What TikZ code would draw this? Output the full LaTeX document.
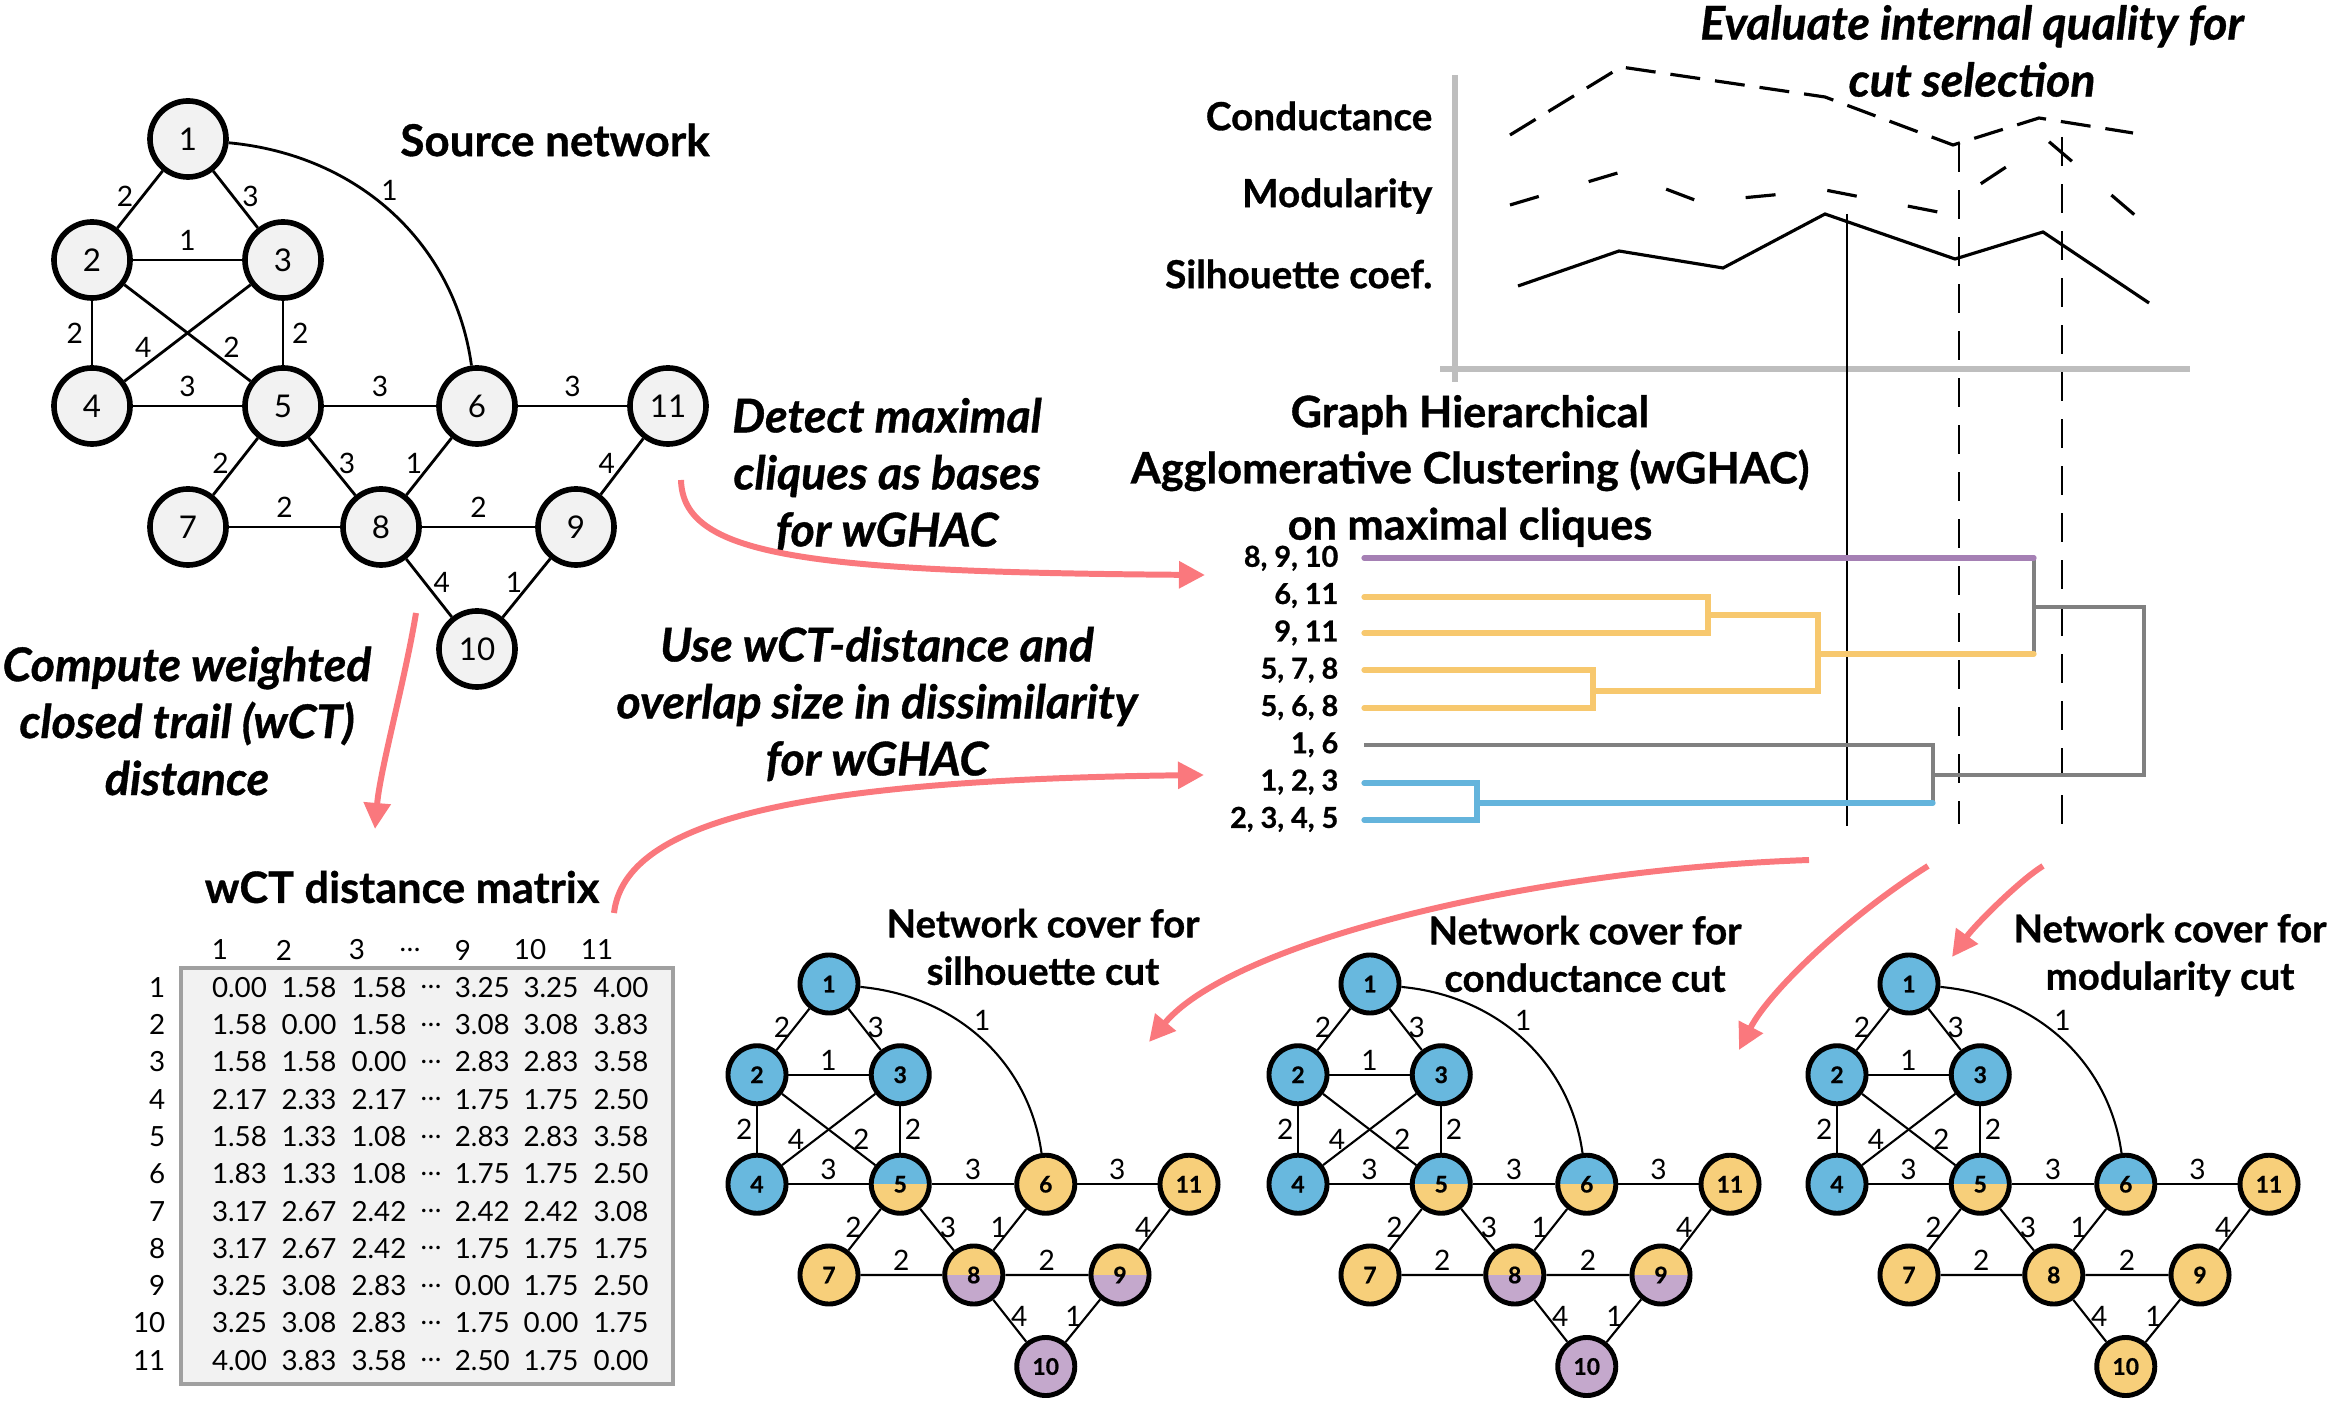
\documentclass[tikz,border=0pt]{standalone}
\usepackage{fontspec}
\setmainfont{Lato}[BoldFeatures={FakeBold=0.8}, BoldItalicFeatures={FakeBold=0.8}]
\usetikzlibrary{arrows.meta}
\definecolor{cblue}{RGB}{104,184,222}
\definecolor{cyel}{RGB}{247,207,122}
\definecolor{cpur}{RGB}{196,168,204}
\definecolor{dpur}{RGB}{165,128,180}
\definecolor{dyel}{RGB}{247,200,110}
\definecolor{dblue}{RGB}{100,180,220}
\definecolor{dgray}{RGB}{128,128,128}
\definecolor{vgray}{RGB}{242,242,242}
\definecolor{axgray}{RGB}{190,190,190}
\definecolor{boxgray}{RGB}{160,160,160}
\definecolor{arrpink}{RGB}{250,120,125}

% vertex positions of the example network, relative to vertex 1
\newcommand{\netpos}{%
  \foreach \n/\x/\y in {1/0/0, 2/-96/121, 3/95/121, 4/-96/267, 5/95/267, 6/289/267,
                        11/480/267, 7/0/388, 8/193/388, 9/388/388, 10/289/510}
    \coordinate (p\n) at (\x,\y);}

% weighted edges, #1 = prefix of the vertex names
\newcommand{\netedges}[1]{%
  \draw[link] (#1-1) -- node[wt, left, pos=.45] {2} (#1-2);
  \draw[link] (#1-1) -- node[wt, right, pos=.45] {3} (#1-3);
  \draw[link] (#1-1) .. controls +(172,16) and +(-22,-161) .. node[wt, pos=.45, anchor=south west, inner sep=0pt] {1} (#1-6);
  \draw[link] (#1-2) -- node[wt, above] {1} (#1-3);
  \draw[link] (#1-2) -- node[wt, left] {2} (#1-4);
  \draw[link] (#1-3) -- node[wt, above, pos=.85] {4} (#1-4);
  \draw[link] (#1-2) -- node[wt, above, pos=.85] {2} (#1-5);
  \draw[link] (#1-3) -- node[wt, right] {2} (#1-5);
  \draw[link] (#1-4) -- node[wt, above] {3} (#1-5);
  \draw[link] (#1-5) -- node[wt, above] {3} (#1-6);
  \draw[link] (#1-6) -- node[wt, above] {3} (#1-11);
  \draw[link] (#1-5) -- node[wt, left, pos=.45] {2} (#1-7);
  \draw[link] (#1-5) -- node[wt, right, pos=.45] {3} (#1-8);
  \draw[link] (#1-6) -- node[wt, left, pos=.45] {1} (#1-8);
  \draw[link] (#1-11) -- node[wt, left, pos=.45] {4} (#1-9);
  \draw[link] (#1-7) -- node[wt, above] {2} (#1-8);
  \draw[link] (#1-8) -- node[wt, above] {2} (#1-9);
  \draw[link] (#1-8) -- node[wt, right, pos=.4] {4} (#1-10);
  \draw[link] (#1-9) -- node[wt, left, pos=.4] {1} (#1-10);
}

\begin{document}
\begin{tikzpicture}[x=0.01cm, y=-0.01cm,
  svtx/.style   = {circle, draw, line width=1.6pt, fill=vgray, minimum size=0.76cm,
                   inner sep=0pt, font=\fontsize{8.9}{10}\selectfont},
  bvtx/.style   = {circle, draw, line width=1.4pt, minimum size=0.58cm,
                   inner sep=0pt, font=\fontsize{6.5}{7}\selectfont\bfseries},
  bl/.style     = {fill=cblue},
  ye/.style     = {fill=cyel},
  pu/.style     = {fill=cpur},
  halves/.style 2 args = {fill=#1, path picture={\fill[#2] (path picture bounding box.west)
                   rectangle (path picture bounding box.south east);}},
  blye/.style   = {halves={cblue}{cyel}},
  yepu/.style   = {halves={cyel}{cpur}},
  link/.style   = {line width=0.8pt},
  wt/.style     = {font=\fontsize{8}{9}\selectfont, inner sep=2.2pt},
  ttl/.style    = {font=\fontsize{12.3}{16}\selectfont\bfseries, align=center},
  note/.style   = {font=\fontsize{13.2}{16.2}\selectfont\bfseries\itshape, align=center},
  clbl/.style   = {font=\fontsize{11}{13}\selectfont\bfseries, anchor=east, inner sep=0pt},
  leaf/.style   = {font=\fontsize{8.2}{9}\selectfont\bfseries, anchor=east, inner sep=0pt},
  mval/.style   = {font=\fontsize{7.9}{9}\selectfont, inner sep=0pt},
  mbox/.style   = {draw=boxgray, fill=vgray, line width=1.2pt,
                   minimum width=4.92cm, minimum height=4.15cm},
  axisl/.style  = {axgray, line width=1.5pt},
  crv/.style    = {line width=0.9pt},
  cond/.style   = {dash pattern=on 0.3cm off 0.15cm},
  modu/.style   = {dash pattern=on 0.3cm off 0.52cm},
  cutl/.style   = {line width=0.7pt},
  cutd/.style   = {line width=0.7pt, dash pattern=on 0.29cm off 0.18cm},
  dlin/.style   = {line width=1.5pt, line cap=round},
  glin/.style   = {dgray, line width=1pt},
  parr/.style   = {arrpink, line width=1.7pt, -{Triangle[length=0.26cm, width=0.26cm]}}
]
\useasboundingbox (0,0) rectangle (2333,1404);

% source network
\begin{scope}[shift={(188,139)}]
  \netpos
  \foreach \n in {1,...,11}
    \node[svtx] (s-\n) at (p\n) {\n};
  \netedges{s}
\end{scope}
\node[ttl, font=\fontsize{12.5}{16}\selectfont\bfseries] (srcttl) at (555,140) {Source network};

% wCT distance matrix
\node[ttl] (mttl) at (402,887) {wCT distance matrix};
\node[mbox] (mbox) at (427,1176) {};
\foreach \h/\x [count=\j] in {1/220, 2/284, 3/357, \dots/410, 9/463, 10/530, 11/597}
  \node[mval] (h\j) at (\x,950) {\h};
\foreach \r [count=\i] in {{0.00,1.58,1.58,3.25,3.25,4.00}, {1.58,0.00,1.58,3.08,3.08,3.83},
    {1.58,1.58,0.00,2.83,2.83,3.58}, {2.17,2.33,2.17,1.75,1.75,2.50},
    {1.58,1.33,1.08,2.83,2.83,3.58}, {1.83,1.33,1.08,1.75,1.75,2.50},
    {3.17,2.67,2.42,2.42,2.42,3.08}, {3.17,2.67,2.42,1.75,1.75,1.75},
    {3.25,3.08,2.83,0.00,1.75,2.50}, {3.25,3.08,2.83,1.75,0.00,1.75},
    {4.00,3.83,3.58,2.50,1.75,0.00}} {
  \node[mval, anchor=east] (r\i) at (166,950+37.3*\i) {\i};
  \node[mval] (d\i) at (431,950+37.3*\i) {\dots};
  \foreach \v [count=\j] in \r {
    \pgfmathsetmacro\cx{{239.5,309,379,482.3,551,621}[\j-1]}
    \node[mval] (m\i-\j) at (\cx,950+37.3*\i) {\v};
  }
}

% annotations
\node[note] (ncomp) at (187,721) {Compute weighted\\closed trail (wCT)\\distance};
\node[note] (ndet) at (887,475) {Detect maximal\\cliques as bases\\for wGHAC};
\node[note] (nuse) at (877,704) {Use wCT-distance and\\overlap size in dissimilarity\\for wGHAC};
\node[note] (neval) at (1972,51) {Evaluate internal quality for\\cut selection};

% internal quality curves
\draw[axisl] (1455,75) -- (1455,382);
\draw[axisl] (1440,369) -- (2190,369);
\node[clbl] (lcond) at (1433,116) {Conductance};
\node[clbl] (lmod) at (1433,196) {Modularity};
\node[clbl] (lsil) at (1433,274) {Silhouette coef.};
\draw[crv, cond] (1510,135) -- (1621,67) -- (1825,97) -- (1953,145) -- (2039,118) -- (2133,133);
\draw[crv, modu] (1510,205) -- (1621,172) -- (1700,202) -- (1825,190) -- (1938,212) -- (2047,140) -- (2137,217);
\draw[crv] (1518,286) -- (1619,251) -- (1723,268) -- (1825,214) -- (1955,259) -- (2043,232) -- (2149,303);
\draw[cutl] (1847,214) -- (1847,826);
\draw[cutd] (1959,143) -- (1959,824);
\draw[cutd] (2062,137) -- (2062,825);

% wGHAC dendrogram
\node[ttl] (dttl) at (1470,471) {Graph Hierarchical\\Agglomerative Clustering (wGHAC)\\on maximal cliques};
\foreach \t [count=\i] in {{8, 9, 10}, {6, 11}, {9, 11}, {5, 7, 8}, {5, 6, 8}, {1, 6}, {1, 2, 3}, {2, 3, 4, 5}}
  \node[leaf] (l\i) at (1339,521+37.3*\i) {\t};
\draw[glin] (2034,558) -- (2034,654);
\draw[glin] (2034,607) -- (2144,607) -- (2144,775) -- (1933,775);
\draw[glin] (1364,745) -- (1933,745) -- (1933,803);
\draw[dlin, dpur] (1364,558) -- (2034,558);
\draw[dlin, dyel] (1364,597) -- (1708,597) -- (1708,633) -- (1364,633);
\draw[dlin, dyel] (1364,670) -- (1593,670) -- (1593,708) -- (1364,708);
\draw[dlin, dyel] (1708,615) -- (1818,615) -- (1818,691) -- (1593,691);
\draw[dlin, dyel] (1818,654) -- (2034,654);
\draw[dlin, dblue] (1364,783) -- (1477,783) -- (1477,820) -- (1364,820);
\draw[dlin, dblue] (1477,803) -- (1933,803);

% network covers for the three cuts
\begin{scope}[shift={(829,984)}, scale=.75, link/.style={line width=0.6pt}, wt/.append style={inner sep=1pt}]
  \netpos
  \foreach \n/\c in {1/bl, 2/bl, 3/bl, 4/bl, 5/blye, 6/ye, 7/ye, 8/yepu, 9/yepu, 10/pu, 11/ye}
    \node[bvtx, \c] (a-\n) at (p\n) {\n};
  \netedges{a}
\end{scope}
\begin{scope}[shift={(1370,984)}, scale=.75, link/.style={line width=0.6pt}, wt/.append style={inner sep=1pt}]
  \netpos
  \foreach \n/\c in {1/bl, 2/bl, 3/bl, 4/bl, 5/blye, 6/blye, 7/ye, 8/yepu, 9/yepu, 10/pu, 11/ye}
    \node[bvtx, \c] (b-\n) at (p\n) {\n};
  \netedges{b}
\end{scope}
\begin{scope}[shift={(1909,984)}, scale=.75, link/.style={line width=0.6pt}, wt/.append style={inner sep=1pt}]
  \netpos
  \foreach \n/\c in {1/bl, 2/bl, 3/bl, 4/bl, 5/blye, 6/blye, 7/ye, 8/ye, 9/ye, 10/ye, 11/ye}
    \node[bvtx, \c] (c-\n) at (p\n) {\n};
  \netedges{c}
\end{scope}
\node[ttl, font=\fontsize{10.9}{13.5}\selectfont\bfseries] (tsil) at (1043,947) {Network cover for\\silhouette cut};
\node[ttl, font=\fontsize{10.9}{13.5}\selectfont\bfseries] (tcon) at (1585,954) {Network cover for\\conductance cut};
\node[ttl, font=\fontsize{10.9}{13.5}\selectfont\bfseries] (tmod) at (2170,955) {Network cover for\\modularity cut};

% pink flow arrows
\coordinate (pa0) at (681,480);   \coordinate (pa1) at (1205,575);
\coordinate (pb0) at (416,613);   \coordinate (pb1) at (375,829);
\coordinate (pc0) at (614,913);   \coordinate (pc1) at (1204,775);
\coordinate (pd0) at (1809,860);  \coordinate (pd1) at (1149,1042);
\coordinate (pe0) at (1928,866);  \coordinate (pe1) at (1739,1050);
\coordinate (pf0) at (2043,866);  \coordinate (pf1) at (1952,957);
\draw[parr] (pa0) .. controls (683,555) and (800,572) .. (pa1);
\draw[parr] (pb0) .. controls (405,680) and (380,770) .. (pb1);
\draw[parr] (pc0) .. controls (625,820) and (800,780) .. (pc1);
\draw[parr] (pd0) .. controls (1520,870) and (1230,945) .. (pd1);
\draw[parr] (pe0) .. controls (1850,915) and (1770,990) .. (pe1);
\draw[parr] (pf0) .. controls (2020,880) and (1975,925) .. (pf1);
\end{tikzpicture}
\end{document}
